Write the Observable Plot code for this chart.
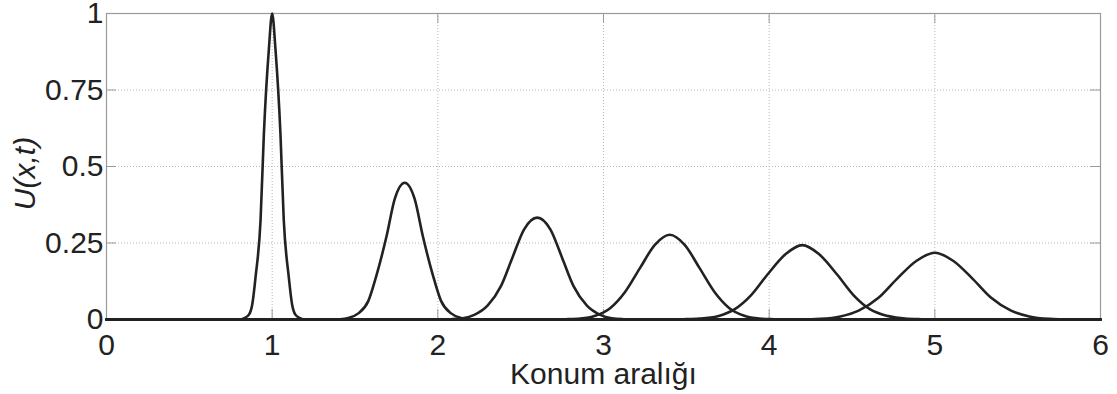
<!DOCTYPE html>
<html>
<head>
<meta charset="utf-8">
<script src="https://cdn.jsdelivr.net/npm/d3@7"></script>
<script src="https://cdn.jsdelivr.net/npm/@observablehq/plot@0.6"></script>
<style>
  html, body { margin: 0; padding: 0; background: #fff; }
  #chart svg { display: block; }
</style>
</head>
<body>
<div id="chart"></div>
<script>
// ---- data ----
const xTicks = [0, 1, 2, 3, 4, 5, 6];
const xTickLabels = ["0", "1", "2", "3", "4", "5", "6"];
const yTicks = [0, 0.25, 0.5, 0.75, 1];
const yTickLabels = ["0", "0.25", "0.5", "0.75", "1"];
const xLabel = "Konum aralığı";
const yLabel = "U(x,t)";

const peak1X = [0, 0.81, 0.83, 0.86, 0.88, 0.90, 0.93, 0.95, 0.98, 1.00, 1.02, 1.05, 1.07, 1.10, 1.12, 1.14, 1.17, 1.19, 6];
const peak1Y = [0, 0, 0.004, 0.016, 0.050, 0.140, 0.325, 0.607, 0.883, 1, 0.883, 0.607, 0.325, 0.140, 0.050, 0.016, 0.004, 0, 0];

const peak2X = [0, 1.35, 1.41, 1.46, 1.52, 1.58, 1.63, 1.69, 1.74, 1.80, 1.86, 1.91, 1.97, 2.02, 2.08, 2.14, 2.19, 2.25, 6];
const peak2Y = [0, 0, 0.001, 0.005, 0.020, 0.060, 0.145, 0.271, 0.394, 0.447, 0.394, 0.271, 0.145, 0.060, 0.020, 0.005, 0.001, 0, 0];

const peak3X = [0, 2.00, 2.08, 2.15, 2.22, 2.30, 2.38, 2.45, 2.52, 2.60, 2.68, 2.75, 2.82, 2.90, 2.98, 3.05, 3.12, 3.20, 6];
const peak3Y = [0, 0, 0.001, 0.004, 0.015, 0.045, 0.108, 0.202, 0.294, 0.333, 0.294, 0.202, 0.108, 0.045, 0.015, 0.004, 0.001, 0, 0];

const peak4X = [0, 2.68, 2.77, 2.86, 2.95, 3.04, 3.13, 3.22, 3.31, 3.40, 3.49, 3.58, 3.67, 3.76, 3.85, 3.94, 4.03, 4.12, 6];
const peak4Y = [0, 0, 0.001, 0.003, 0.012, 0.037, 0.090, 0.168, 0.244, 0.277, 0.244, 0.168, 0.090, 0.037, 0.012, 0.003, 0.001, 0, 0];

const peak5X = [0, 3.38, 3.48, 3.58, 3.69, 3.79, 3.89, 3.99, 4.10, 4.20, 4.30, 4.41, 4.51, 4.61, 4.72, 4.82, 4.92, 5.02, 6];
const peak5Y = [0, 0, 0.001, 0.003, 0.011, 0.033, 0.079, 0.147, 0.214, 0.243, 0.214, 0.147, 0.079, 0.033, 0.011, 0.003, 0.001, 0, 0];

const peak6X = [0, 4.08, 4.20, 4.31, 4.43, 4.54, 4.66, 4.77, 4.89, 5.00, 5.11, 5.23, 5.34, 5.46, 5.57, 5.69, 5.80, 5.92, 6];
const peak6Y = [0, 0, 0, 0.002, 0.010, 0.029, 0.071, 0.132, 0.192, 0.218, 0.192, 0.132, 0.071, 0.029, 0.010, 0.002, 0, 0, 0];

// ---- build table for the library ----
const series = [
  [peak1X, peak1Y], [peak2X, peak2Y], [peak3X, peak3Y],
  [peak4X, peak4Y], [peak5X, peak5Y], [peak6X, peak6Y]
];
const rows = [];
series.forEach(([xs, ys], k) => xs.forEach((x, i) => rows.push({peak: k, x, y: ys[i]})));

// ---- layout ----
const W = 1117, H = 394;
const mL = 106, mT = 13, mR = 17, mB = 75;
const pw = W - mL - mR, ph = H - mT - mB;
const tickLen = 10;
const frameColor = "#9a9a9a";
const gridColor = "#b8b8b8";
const ink = "#222";

const chart = Plot.plot({
  width: W, height: H,
  marginLeft: mL, marginTop: mT, marginRight: mR, marginBottom: mB,
  style: {fontFamily: "'Liberation Sans', Arial, Helvetica, sans-serif", fontSize: "30px", background: "#fff", color: ink},
  x: {domain: [0, 6], ticks: xTicks},
  y: {domain: [0, 1], ticks: yTicks},
  marks: [
    Plot.gridX(xTicks.slice(1, -1), {stroke: gridColor, strokeOpacity: 1, strokeDasharray: "1,2", strokeWidth: 1}),
    Plot.gridY(yTicks.slice(1, -1), {stroke: gridColor, strokeOpacity: 1, strokeDasharray: "1,2", strokeWidth: 1}),
    Plot.ruleX(xTicks, {x: d => d, insetTop: ph - tickLen, stroke: frameColor}),
    Plot.ruleX(xTicks, {x: d => d, insetBottom: ph - tickLen, stroke: frameColor}),
    Plot.ruleY(yTicks, {y: d => d, insetRight: pw - tickLen, stroke: frameColor}),
    Plot.ruleY(yTicks, {y: d => d, insetLeft: pw - tickLen, stroke: frameColor}),
    Plot.frame({stroke: frameColor, strokeWidth: 1.2}),
    Plot.axisX(xTicks, {tickSize: 0, tickPadding: 14, label: null, fontSize: 30,
      tickFormat: d => xTickLabels[xTicks.indexOf(d)]}),
    Plot.axisY(yTicks, {tickSize: 0, tickPadding: 3, label: null, fontSize: 30,
      tickFormat: d => yTickLabels[yTicks.indexOf(d)]}),
    Plot.line(rows, {x: "x", y: "y", z: "peak", curve: "monotone-x", stroke: ink, strokeWidth: 2.6}),
    Plot.text([xLabel], {text: d => d, frameAnchor: "bottom", lineAnchor: "top", dy: 43, fontSize: 30, fill: ink}),
    Plot.text([yLabel], {text: d => d, frameAnchor: "left", textAnchor: "middle", rotate: -90, dx: -81, dy: 7,
      fontStyle: "italic", fontSize: 30, fill: ink})
  ]
});
document.getElementById("chart").appendChild(chart);
</script>
</body>
</html>
